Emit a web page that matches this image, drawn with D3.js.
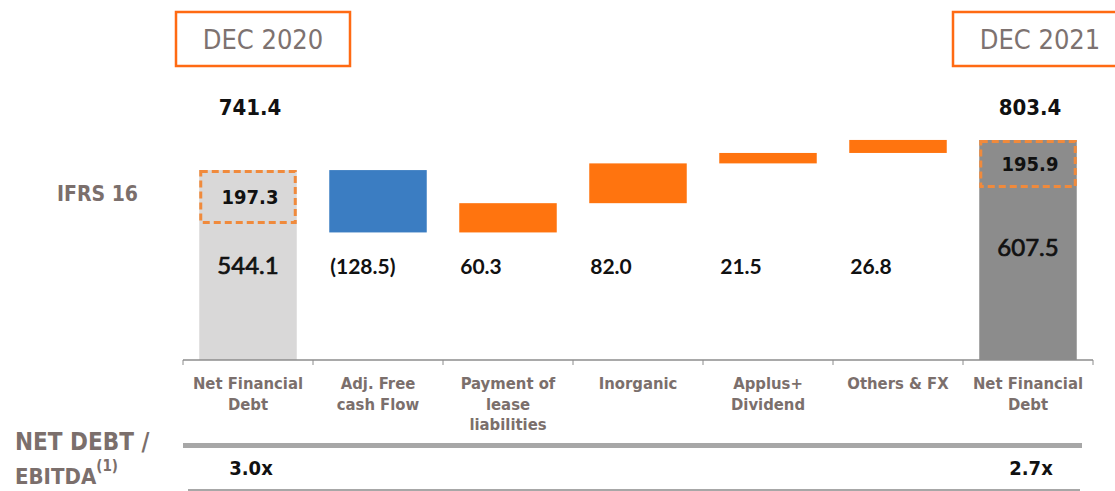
<!DOCTYPE html>
<html>
<head>
<meta charset="utf-8">
<script src="https://cdnjs.cloudflare.com/ajax/libs/d3/7.8.5/d3.min.js"></script>
<style>
  body { margin: 0; background: #fff; }
  svg { display: block; }
</style>
</head>
<body>
<svg id="chart"></svg>
<script>
// --- data ---
var categories = ["Net Financial\nDebt", "Adj. Free\ncash Flow", "Payment of\nlease\nliabilities",
                  "Inorganic", "Applus+\nDividend", "Others & FX", "Net Financial\nDebt"];
var periods = ["DEC 2020", "DEC 2021"];
var totals = [741.4, 803.4];
var ifrs16 = [197.3, 195.9];
var exIfrs = [544.1, 607.5];
var changes = [-128.5, 60.3, 82.0, 21.5, 26.8];
var leverage = ["3.0x", "2.7x"];

var W = 1115, H = 491;
var orange = "#ff740f", blue = "#3b7dc2", brown = "#7b6f6c";

var svg = d3.select("#chart").attr("width", W).attr("height", H);

var x = d3.scaleBand()
    .domain(d3.range(categories.length))
    .range([183, 1093])
    .paddingInner(0.25)
    .paddingOuter(0.125);

// axis is broken: the bars start from 350, not zero
var y = d3.scaleLinear().domain([350, 803.4]).range([360, 140]);

// build waterfall steps
var steps = [];
var running = totals[0];
steps.push({i: 0, from: y.domain()[0], to: totals[0], type: "total", k: 0});
changes.forEach(function(c, j) {
    steps.push({i: j + 1, from: running, to: running + c, type: c < 0 ? "down" : "up", v: c});
    running += c;
});
steps.push({i: categories.length - 1, from: y.domain()[0], to: totals[1], type: "total", k: 1});

var fillFor = {down: blue, up: orange};
var totalFill = ["#d9d8d8", "#8c8c8c"];

svg.selectAll("rect.bar").data(steps).enter().append("rect")
    .attr("class", "bar")
    .attr("x", function(d) { return x(d.i); })
    .attr("width", x.bandwidth())
    .attr("y", function(d) { return y(Math.max(d.from, d.to)); })
    .attr("height", function(d) { return Math.abs(y(d.from) - y(d.to)); })
    .attr("fill", function(d) { return d.type == "total" ? totalFill[d.k] : fillFor[d.type]; });

// IFRS 16 dashed boxes on top of the totals
var boxH = [51, 45];
var totalSteps = steps.filter(function(d) { return d.type == "total"; });
svg.selectAll("rect.ifrs").data(totalSteps).enter().append("rect")
    .attr("class", "ifrs")
    .attr("x", function(d) { return x(d.i) + 1.5; })
    .attr("width", x.bandwidth() - 3)
    .attr("y", function(d) { return y(d.to) + 1.5; })
    .attr("height", function(d) { return boxH[d.k]; })
    .attr("fill", "none")
    .attr("stroke", "#f08a3c")
    .attr("stroke-width", 3)
    .attr("stroke-dasharray", "7,4");

svg.selectAll("text.ifrsval").data(totalSteps).enter().append("text")
    .attr("x", function(d) { return x(d.i) + x.bandwidth() / 2 + 2; })
    .attr("y", function(d) { return y(d.to) + boxH[d.k] / 2 + 8; })
    .attr("text-anchor", "middle")
    .style("font", "bold 20px 'DejaVu Sans Condensed'")
    .attr("fill", "#111")
    .text(function(d) { return ifrs16[d.k].toFixed(1); });

// total labels above
svg.selectAll("text.total").data(totalSteps).enter().append("text")
    .attr("x", function(d) { return x(d.i) + x.bandwidth() / 2 + 2; })
    .attr("y", 115)
    .attr("text-anchor", "middle")
    .style("font", "bold 22px 'DejaVu Sans Condensed'")
    .attr("fill", "#111")
    .text(function(d) { return totals[d.k].toFixed(1); });

// ex-IFRS values inside totals
var exY = [274, 256];
svg.selectAll("text.ex").data(totalSteps).enter().append("text")
    .attr("x", function(d) { return x(d.i) + x.bandwidth() / 2; })
    .attr("y", function(d) { return exY[d.k]; })
    .attr("text-anchor", "middle")
    .style("font", "24px Lato")
    .attr("fill", "#111")
    .attr("stroke", "#111")
    .attr("stroke-width", 0.7)
    .text(function(d) { return exIfrs[d.k].toFixed(1); });

// change labels
var fmt = d3.format(".1f");
svg.selectAll("text.chg").data(steps.filter(function(d) { return d.type != "total"; }))
    .enter().append("text")
    .attr("x", function(d) { return x(d.i) + 1; })
    .attr("y", 274)
    .style("font", "bold 21px Lato")
    .attr("fill", "#111")
    .text(function(d) { return d.v < 0 ? "(" + fmt(-d.v) + ")" : fmt(d.v); });

// axis with ticks on band boundaries
var axisY = y.range()[0];
svg.append("line")
    .attr("x1", x.range()[0]).attr("x2", x.range()[1])
    .attr("y1", axisY).attr("y2", axisY)
    .attr("stroke", "#8c8c8c").attr("stroke-width", 1.5);
svg.selectAll("line.tick").data(d3.range(categories.length + 1)).enter().append("line")
    .attr("class", "tick")
    .attr("x1", function(d) { return x.range()[0] + d * x.step(); })
    .attr("x2", function(d) { return x.range()[0] + d * x.step(); })
    .attr("y1", axisY).attr("y2", axisY + 5)
    .attr("stroke", "#8c8c8c").attr("stroke-width", 1);

// category labels
var cat = svg.selectAll("text.cat").data(categories).enter().append("text")
    .attr("text-anchor", "middle")
    .style("font", "bold 16.5px 'DejaVu Sans Condensed'")
    .attr("fill", brown)
    .attr("transform", function(d, i) { return "translate(" + (x(i) + x.bandwidth() / 2) + ",389)"; });
cat.selectAll("tspan").data(function(d) { return d.split("\n"); }).enter().append("tspan")
    .attr("x", 0)
    .attr("dy", function(d, j) { return j == 0 ? 0 : 20.5; })
    .text(function(d) { return d; });

// period boxes
var periodX = [263, 1040];
var pb = svg.selectAll("g.period").data(periods).enter().append("g")
    .attr("transform", function(d, i) { return "translate(" + periodX[i] + ",0)"; });
pb.append("rect")
    .attr("x", -87).attr("y", 12).attr("width", 174).attr("height", 54)
    .attr("fill", "none").attr("stroke", "#ff6a13").attr("stroke-width", 2.5);
pb.append("text")
    .attr("text-anchor", "middle").attr("y", 49)
    .style("font", "27px 'DejaVu Sans Condensed'")
    .attr("fill", "#7d7270")
    .text(function(d) { return d; });

// left side labels
svg.append("text")
    .attr("x", 57).attr("y", 201)
    .style("font", "bold 21px 'DejaVu Sans Condensed'")
    .attr("fill", brown)
    .text("IFRS 16");

svg.append("text")
    .attr("x", 15).attr("y", 450)
    .style("font", "bold 24px 'DejaVu Sans Condensed'")
    .attr("fill", brown)
    .text("NET DEBT /");
var eb = svg.append("text")
    .attr("x", 15).attr("y", 484)
    .style("font", "bold 22px 'DejaVu Sans Condensed'")
    .attr("fill", brown);
eb.append("tspan").text("EBITDA");
eb.append("tspan").attr("dy", -13).style("font-size", "15px").text("(1)");

// leverage row
svg.append("rect")
    .attr("x", x.range()[0]).attr("y", 443)
    .attr("width", x.range()[1] - x.range()[0] - 11).attr("height", 5)
    .attr("fill", "#a7a7a7");
svg.append("rect")
    .attr("x", x.range()[0] + 5).attr("y", 489)
    .attr("width", x.range()[1] - x.range()[0] - 18).attr("height", 2)
    .attr("fill", "#a7a7a7");
var levIdx = [0, categories.length - 1];
svg.selectAll("text.lev").data(leverage).enter().append("text")
    .attr("x", function(d, i) { return x(levIdx[i]) + x.bandwidth() / 2 + 3; })
    .attr("y", 475)
    .attr("text-anchor", "middle")
    .style("font", "bold 20px 'DejaVu Sans Condensed'")
    .attr("fill", "#111")
    .text(function(d) { return d; });
</script>
</body>
</html>
